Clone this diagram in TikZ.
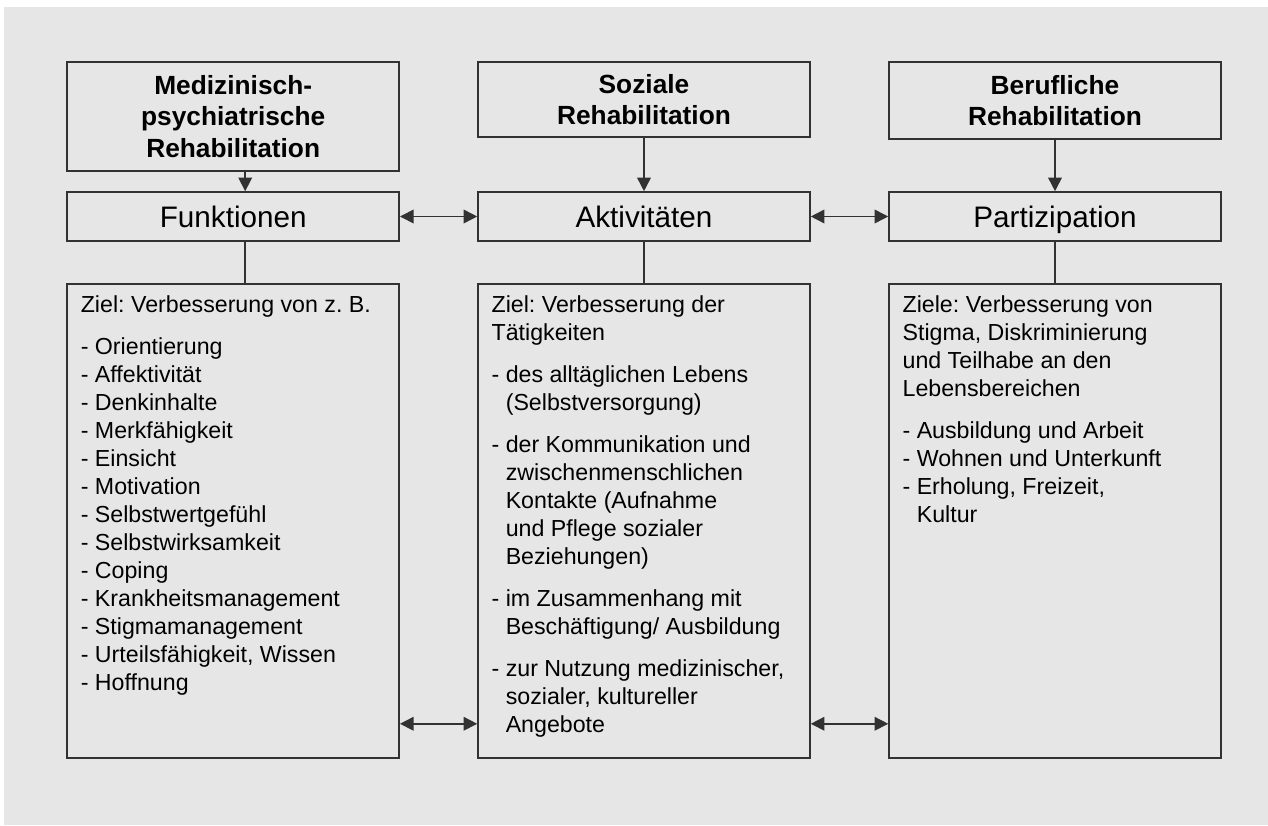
\documentclass[tikz,border=0pt]{standalone}
\usepackage{fontspec}
\setmainfont{Liberation Sans}
\definecolor{bggray}{RGB}{230, 230, 230}
\definecolor{linegray}{RGB}{50, 50, 50}
\usetikzlibrary{arrows.meta, positioning, calc}
\frenchspacing

\tikzset{
  kopfbox/.style={draw=linegray, line width=1.1pt, minimum width=8.3cm, align=center, inner sep=2pt,
    font=\fontsize{18.7pt}{22.5pt}\selectfont\bfseries},
  ebenebox/.style={draw=linegray, line width=1.1pt, minimum width=8.3cm, minimum height=1.225cm,
    text height=17pt, text depth=1.9pt, font=\fontsize{21.1pt}{25pt}\selectfont},
  zielbox/.style={draw=linegray, line width=1.1pt, inner xsep=0.34cm, inner ysep=0.3cm,
    font=\fontsize{16.5pt}{19.9pt}\selectfont},
  pfeil/.style={draw=linegray, line width=1.1pt, -{Triangle[length=0.34cm, width=0.34cm]}},
  doppelpfeil/.style={draw=linegray, line width=1.1pt, {Triangle[length=0.34cm, width=0.34cm]}-{Triangle[length=0.34cm, width=0.34cm]}},
  linie/.style={draw=linegray, line width=1.1pt}
}

\begin{document}
\begin{tikzpicture}
  % Hintergrund
  \path[use as bounding box, fill=white] (0, 0) rectangle (31.7, 20.625);
  \fill[bggray] (0.1, 0) rectangle (31.7, 20.45);

  % Rehabilitationsbereiche
  \node[kopfbox, minimum height=2.725cm] (med) at (5.83, 17.7125) {Medizinisch-\\psychiatrische\\Rehabilitation};
  \node[kopfbox, minimum height=1.875cm] (soz) at (16.1, 18.1375) {Soziale\\Rehabilitation};
  \node[kopfbox, minimum height=1.925cm] (beruf) at (26.375, 18.1125) {Berufliche\\Rehabilitation};

  % Ebenen
  \node[ebenebox] (funk) at (5.83, 15.2125) {Funktionen};
  \node[ebenebox] (akt) at (16.1, 15.2125) {Aktivitäten};
  \node[ebenebox] (part) at (26.375, 15.2125) {Partizipation};

  % Ziele
  \node[zielbox] (zielfunk) at (5.83, 7.6) {\parbox[c][11.25cm][t]{7.62cm}{\raggedright
    Ziel: Verbesserung von z. B.\\[10pt]
    - Orientierung\\
    - Affektivität\\
    - Denkinhalte\\
    - Merkfähigkeit\\
    - Einsicht\\
    - Motivation\\
    - Selbstwertgefühl\\
    - Selbstwirksamkeit\\
    - Coping\\
    - Krankheitsmanagement\\
    - Stigmamanagement\\
    - Urteilsfähigkeit, Wissen\\
    - Hoffnung}};

  \node[zielbox] (zielakt) at (16.1, 7.6) {\parbox[c][11.25cm][t]{7.62cm}{\raggedright
    Ziel: Verbesserung der\\
    Tätigkeiten\\[10pt]
    - des alltäglichen Lebens\\
    \phantom{- }(Selbstversorgung)\\[10pt]
    - der Kommunikation und\\
    \phantom{- }zwischenmenschlichen\\
    \phantom{- }Kontakte (Aufnahme\\
    \phantom{- }und Pflege sozialer\\
    \phantom{- }Beziehungen)\\[10pt]
    - im Zusammenhang mit\\
    \phantom{- }Beschäftigung/ Ausbildung\\[10pt]
    - zur Nutzung medizinischer,\\
    \phantom{- }sozialer, kultureller\\
    \phantom{- }Angebote}};

  \node[zielbox] (zielpart) at (26.375, 7.6) {\parbox[c][11.25cm][t]{7.62cm}{\raggedright
    Ziele: Verbesserung von\\
    Stigma, Diskriminierung\\
    und Teilhabe an den\\
    Lebensbereichen\\[10pt]
    - Ausbildung und Arbeit\\
    - Wohnen und Unterkunft\\
    - Erholung, Freizeit,\\
    \phantom{- }Kultur}};

  % Verbindungen
  \draw[pfeil] ([xshift=0.3cm]med.south) -- ([xshift=0.3cm]funk.north);
  \draw[pfeil] (soz.south) -- (akt.north);
  \draw[pfeil] (beruf.south) -- (part.north);
  \draw[doppelpfeil] (funk.east) -- (akt.west);
  \draw[doppelpfeil] (akt.east) -- (part.west);
  \draw[linie] ([xshift=0.3cm]funk.south) -- ([xshift=0.3cm]zielfunk.north);
  \draw[linie] (akt.south) -- (zielakt.north);
  \draw[linie] (part.south) -- (zielpart.north);
  \draw[doppelpfeil] ([yshift=0.875cm]zielfunk.south east) -- ([yshift=0.875cm]zielakt.south west);
  \draw[doppelpfeil] ([yshift=0.875cm]zielakt.south east) -- ([yshift=0.875cm]zielpart.south west);
\end{tikzpicture}
\end{document}
